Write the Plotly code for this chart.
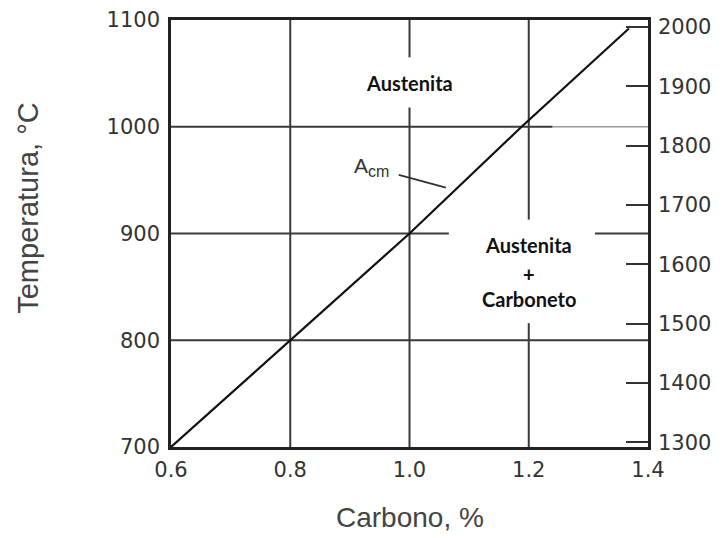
import plotly.graph_objects as go

# Data
carbon = [0.6, 0.8, 1.0, 1.188, 1.368]     # % C
temp_c = [700, 800, 900, 1000, 1092]       # °C  (A_cm line)
x_ticks = [0.6, 0.8, 1.0, 1.2, 1.4]
x_ticklabels = ["0.6", "0.8", "1.0", "1.2", "1.4"]
yc_ticks = [700, 800, 900, 1000, 1100]
yf_ticks = [1300, 1400, 1500, 1600, 1700, 1800, 1900, 2000]
yc_range = [700, 1100]
yf_range = [1292, 2012]

# Grid segments (with gaps around labels), in data units
v_grid = [  # (x, y0, y1)
    (0.8, 700, 1100),
    (1.0, 700, 1018),
    (1.0, 1065, 1100),
    (1.2, 700, 816),
    (1.2, 913, 1100),
]
h_grid = [  # (y, x0, x1)
    (800, 0.6, 1.4),
    (900, 0.6, 1.066),
    (900, 1.311, 1.4),
    (1000, 0.6, 1.24),
]
h_grid_light = [
    (1000, 1.24, 1.4),
]

fig = go.Figure()
fig.add_trace(go.Scatter(x=carbon, y=temp_c, mode="lines",
                         line=dict(color="#111", width=2.2),
                         showlegend=False, hoverinfo="skip"))
fig.add_trace(go.Scatter(x=[carbon[0]], y=[yf_range[0]], yaxis="y2",
                         mode="markers", marker=dict(opacity=0),
                         showlegend=False, hoverinfo="skip"))

GRID = "#3a3a3a"
shapes = []
for x, y0, y1 in v_grid:
    shapes.append(dict(type="line", xref="x", yref="y", x0=x, x1=x, y0=y0, y1=y1,
                       line=dict(color=GRID, width=2), layer="below"))
for y, x0, x1 in h_grid:
    shapes.append(dict(type="line", xref="x", yref="y", x0=x0, x1=x1, y0=y, y1=y,
                       line=dict(color=GRID, width=2), layer="below"))
for y, x0, x1 in h_grid_light:
    shapes.append(dict(type="line", xref="x", yref="y", x0=x0, x1=x1, y0=y, y1=y,
                       line=dict(color="#999", width=1.5), layer="below"))
# A_cm leader line
shapes.append(dict(type="line", xref="x", yref="y", x0=0.982, x1=1.061, y0=955, y1=943,
                   line=dict(color="#333", width=1.8)))

tickfont = dict(family="DejaVu Sans, sans-serif", size=21, color="#333")
labfont = dict(family="Lato, sans-serif", size=20, color="#111")
titlefont = dict(family="Liberation Sans, Arial, sans-serif", size=28, color="#444")

annotations = [
    dict(x=1.0, y=1041, xref="x", yref="y", text="<b>Austenita</b>",
         showarrow=False, font=labfont, xanchor="center", yanchor="middle"),
    dict(x=1.2, y=889, xref="x", yref="y", text="<b>Austenita</b>",
         showarrow=False, font=labfont, xanchor="center", yanchor="middle"),
    dict(x=1.2, y=862, xref="x", yref="y", text="<b>+</b>",
         showarrow=False, font=labfont, xanchor="center", yanchor="middle"),
    dict(x=1.2, y=839, xref="x", yref="y", text="<b>Carboneto</b>",
         showarrow=False, font=labfont, xanchor="center", yanchor="middle"),
    dict(x=0.936, y=962, xref="x", yref="y",
         text="A<sub><span style='font-size:16px'>cm</span></sub>", showarrow=False,
         xanchor="center", yanchor="middle",
         font=dict(family="Liberation Sans, Arial, sans-serif", size=21, color="#333")),
    dict(x=-0.30, y=924, xref="paper", yref="y", text="Temperatura, °C",
         textangle=-90, showarrow=False, font=dict(titlefont, size=29),
         xanchor="center", yanchor="middle"),
    dict(x=1.0, y=-0.166, xref="x", yref="paper", text="Carbono, %",
         showarrow=False, font=titlefont, xanchor="center", yanchor="middle"),
]

fig.update_layout(
    width=714, height=530,
    margin=dict(l=163, r=74, t=12, b=91),
    paper_bgcolor="white", plot_bgcolor="white",
    shapes=shapes, annotations=annotations,
    xaxis=dict(range=[0.6, 1.4], tickvals=x_ticks, ticktext=x_ticklabels,
               showgrid=False, zeroline=False, showline=True, linecolor="#222",
               linewidth=2.5, mirror=True, ticks="", tickfont=tickfont,
               ticklabelstandoff=2, automargin=False),
    yaxis=dict(range=yc_range, tickvals=yc_ticks, showgrid=False, zeroline=False,
               showline=True, linecolor="#222", linewidth=2.5, mirror=True, ticks="",
               tickfont=tickfont, ticklabelstandoff=4, automargin=False),
    yaxis2=dict(range=yf_range, tickvals=yf_ticks, overlaying="y", side="right",
                showgrid=False, zeroline=False, showline=False, ticks="inside",
                ticklen=22, tickwidth=2, tickcolor="#333", tickfont=tickfont,
                ticklabelstandoff=9, automargin=False),
)

fig.write_html("out.html")
